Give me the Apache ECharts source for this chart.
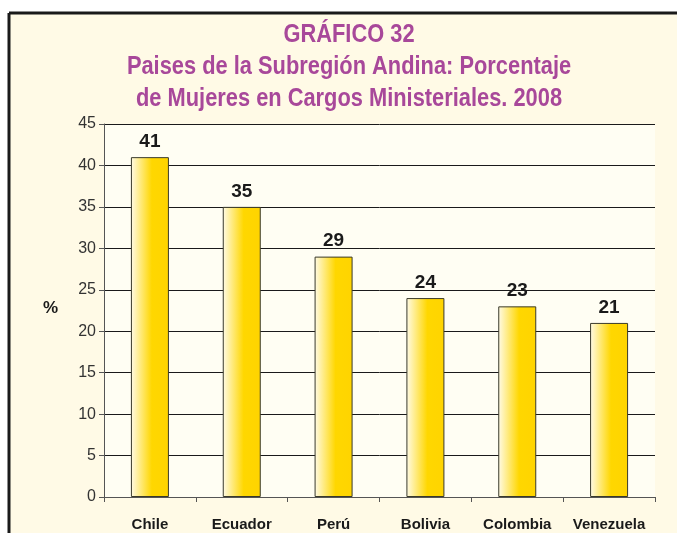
<!DOCTYPE html>
<html>
<head>
<meta charset="utf-8">
<script src="https://cdn.jsdelivr.net/npm/echarts@6/dist/echarts.min.js"></script>
<style>
  html, body { margin: 0; padding: 0; background: #ffffff; }
  #chart { width: 677px; height: 533px; }
</style>
</head>
<body>
<div id="chart"></div>
<script>
// data
const categories = ['Chile', 'Ecuador', 'Perú', 'Bolivia', 'Colombia', 'Venezuela']
const values = [41, 35, 29, 24, 23, 21]
const titleLines = ['GRÁFICO 32', 'Paises de la Subregión Andina: Porcentaje', 'de Mujeres en Cargos Ministeriales. 2008']

const chart = echarts.init(document.getElementById('chart'), null, { renderer: 'canvas' })

const baseFont = '"Liberation Sans", Arial, sans-serif'

let options = {
    animation: false,
    graphic: [
        // cream panel with black top/left frame
        { type: 'rect', z: -10, shape: { x: 9, y: 13, width: 668, height: 520 }, style: { fill: '#fffae6' } },
        { type: 'line', z: -5, shape: { x1: 9, y1: 13, x2: 677, y2: 13 }, style: { stroke: '#1a1a1a', lineWidth: 3 } },
        { type: 'line', z: -5, shape: { x1: 9, y1: 13, x2: 9, y2: 533 }, style: { stroke: '#1a1a1a', lineWidth: 3 } },
        {
            // condensed look: squeeze the bold title horizontally
            type: 'text', x: 349, y: 19, scaleX: 0.84,
            style: {
                x: 0, y: 0, text: titleLines.join('\n'), fill: '#a8489a', font: 'bold 26px ' + baseFont,
                align: 'center', verticalAlign: 'top', lineHeight: 32
            }
        },
        { type: 'text', left: 43, top: 300, style: { text: '%', fill: '#1a1a1a', font: 'bold 17px ' + baseFont } }
    ],
    grid: {
        left: 104, top: 124, right: 22, bottom: 36,
        show: true, backgroundColor: '#fffef3', borderWidth: 0
    },
    xAxis: {
        type: 'category',
        data: categories,
        axisLine: { lineStyle: { color: '#555555', width: 1 } },
        axisTick: { show: true, length: 5, lineStyle: { color: '#555555' } },
        axisLabel: {
            interval: 0,
            color: '#1a1a1a', fontWeight: 'bold', fontSize: 15, margin: 20,
            fontFamily: baseFont
        }
    },
    yAxis: {
        type: 'value',
        min: 0, max: 45, interval: 5,
        axisLine: { show: true, lineStyle: { color: '#555555', width: 1 } },
        axisTick: { show: true, length: 5, lineStyle: { color: '#555555' } },
        axisLabel: {
            color: '#333333', fontSize: 16, margin: 8,
            fontFamily: baseFont
        },
        splitLine: { lineStyle: { color: '#1a1a1a', width: 1 } }
    },
    series: [{
        type: 'bar',
        data: values,
        barWidth: 38,
        itemStyle: {
            borderColor: '#3a3a2a',
            borderWidth: 1,
            color: new echarts.graphic.LinearGradient(0, 0, 1, 0, [
                { offset: 0, color: '#fffbe8' },
                { offset: 0.55, color: '#ffd700' },
                { offset: 1, color: '#ffd400' }
            ])
        },
        label: {
            show: true, position: 'top', distance: 6,
            color: '#1a1a1a', fontWeight: 'bold', fontSize: 19,
            fontFamily: baseFont
        }
    }]
}

chart.setOption(options)
</script>
</body>
</html>
